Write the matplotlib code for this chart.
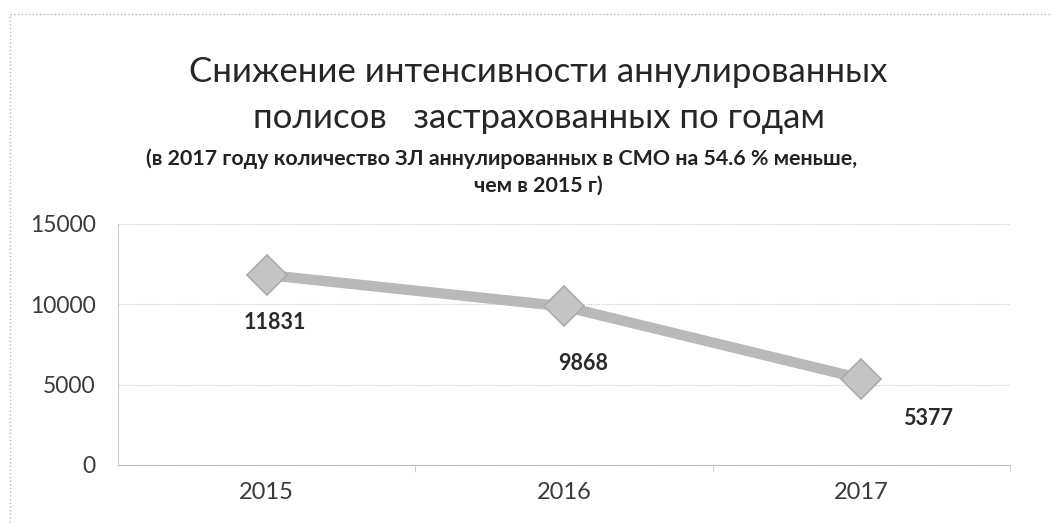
import matplotlib
matplotlib.use("Agg")
import matplotlib.pyplot as plt
from matplotlib.patches import Rectangle

# data
years = ["2015", "2016", "2017"]
counts = [11831, 9868, 5377]
label_offsets = [(6, -34), (14, -41), (48, -29)]

plt.rcParams['font.family'] = ['Lato', 'DejaVu Sans']

fig = plt.figure(figsize=(10.52, 5.24), dpi=100)
ax = fig.add_axes([0.112, 0.1126, 0.848, 0.46])

#outer chart border
fig.patches.append(Rectangle((0.0095, -0.01), 1.2, 0.983, transform=fig.transFigure,
                             fill=False, edgecolor="#b8b8b8", linestyle=":", linewidth=1.0))

x = list(range(len(years)))
ax.plot(x, counts, color="#b9b9b9", linewidth=7.5, solid_capstyle="butt",
        marker="D", markersize=20, markerfacecolor="#c4c4c4",
        markeredgecolor="#ababab", markeredgewidth=1.2, zorder=3)

for xi, v, off in zip(x, counts, label_offsets):
    ax.annotate(str(v), (xi, v), xytext=off, textcoords="offset points",
                ha="center", va="center", fontsize=15.5, fontweight="bold", color="#2a2a2a")

ax.set_xlim(-0.5, 2.5)
ax.set_ylim(0, 15000)
ax.set_yticks([0, 5000, 10000, 15000])
ax.set_xticks(x)
ax.set_xticklabels(years)
ax.set_xticks([0.5, 1.5, 2.5], minor=True)
ax.tick_params(axis="x", which="major", length=0, pad=12, labelsize=17, labelcolor="#3a3a3a")
ax.tick_params(axis="x", which="minor", length=5, color="#c8c8c8")
ax.tick_params(axis="y", length=0, pad=16, labelsize=16.5, labelcolor="#3a3a3a")
ax.grid(axis="y", color="#cfcfcf", linewidth=0.9, linestyle=(0, (1, 1)))
ax.set_axisbelow(True)
for s in ["top", "right"]:
    ax.spines[s].set_visible(False)
ax.spines["left"].set_color("#d0d0d0")
ax.spines["left"].set_linestyle((0, (1, 1)))
ax.spines["bottom"].set_color("#c0c0c0")
ax.spines["bottom"].set_linestyle((0, (1, 1)))

fig.text(0.512, 0.862, "Снижение интенсивности аннулированных", ha="center", va="center",
         fontsize=25, color="#262626")
fig.text(0.512, 0.775, "полисов   застрахованных по годам", ha="center", va="center",
         fontsize=25, color="#262626")
fig.text(0.477, 0.698, "(в 2017 году количество ЗЛ аннулированных в СМО на 54.6 % меньше,",
         ha="center", va="center", fontsize=15.4, fontweight="bold", color="#222222")
fig.text(0.512, 0.646, "чем в 2015 г)", ha="center", va="center",
         fontsize=15.4, fontweight="bold", color="#222222")

fig.savefig("out.png", dpi=100, facecolor="white")
